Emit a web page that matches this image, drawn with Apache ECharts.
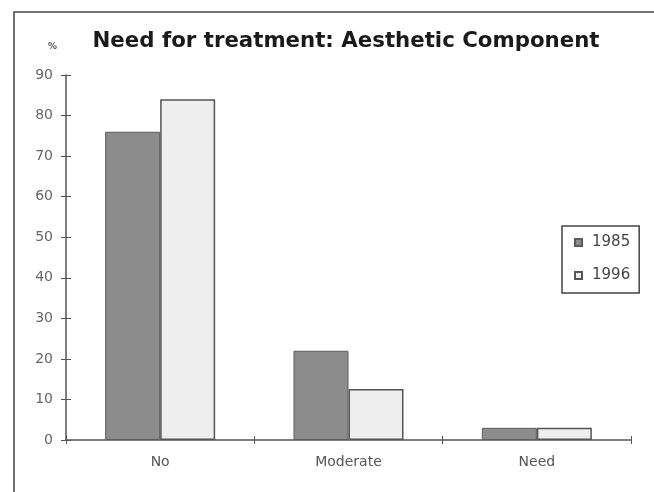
<!DOCTYPE html>
<html>
<head>
<meta charset="utf-8">
<script src="https://cdn.jsdelivr.net/npm/echarts@6/dist/echarts.min.js"></script>
<style>
  html, body { margin: 0; padding: 0; background: #fff; }
  #chart { width: 654px; height: 492px; }
</style>
</head>
<body>
<div id="chart"></div>
<script>
// Need for orthodontic treatment (Aesthetic Component), % of children
const categories = ['No', 'Moderate', 'Need'];
const years = ['1985', '1996'];
const values1985 = [76, 22, 3];
const values1996 = [84, 12.6, 3];
const yTicks = { min: 0, max: 90, interval: 10 };

const chart = echarts.init(document.getElementById('chart'), null, { renderer: 'canvas' });

const labelFont = '"DejaVu Sans", Verdana, sans-serif';

chart.setOption({
  backgroundColor: '#ffffff',
  animation: false,
  title: {
    text: 'Need for treatment: Aesthetic Component',
    left: 341,
    textAlign: 'center',
    top: 26,
    textStyle: {
      fontFamily: labelFont,
      fontWeight: 'bold',
      fontSize: 21.3,
      color: '#1a1a1a'
    }
  },
  graphic: [{
    type: 'rect',
    shape: { x: 14, y: 12, width: 700, height: 520 },
    style: { fill: null, stroke: '#444444', lineWidth: 1.5 },
    silent: true
  }],
  legend: {
    orient: 'vertical',
    left: 562,
    top: 226,
    data: years,
    icon: 'rect',
    itemWidth: 7,
    itemHeight: 7,
    itemGap: 18,
    padding: [9, 9, 10, 12],
    borderColor: '#444444',
    borderWidth: 1.5,
    textStyle: {
      fontFamily: labelFont,
      fontSize: 15,
      color: '#444444',
      padding: [0, 0, 0, 5]
    }
  },
  grid: {
    left: 66,
    right: 23,
    top: 75,
    bottom: 52,
    containLabel: false
  },
  xAxis: [{
    type: 'category',
    data: categories,
    axisLine: { lineStyle: { color: '#555555', width: 1.5 } },
    axisTick: { show: true, length: 4, lineStyle: { color: '#555555' } },
    axisLabel: {
      margin: 15,
      fontFamily: labelFont,
      fontSize: 14,
      color: '#555555'
    }
  }, {
    type: 'category',
    data: categories,
    position: 'bottom',
    axisLine: { show: false },
    axisTick: { show: true, inside: true, length: 4, lineStyle: { color: '#555555' } },
    axisLabel: { show: false }
  }],
  yAxis: [{
    type: 'value',
    min: yTicks.min,
    max: yTicks.max,
    interval: yTicks.interval,
    name: '%',
    nameLocation: 'end',
    nameGap: 24,
    nameTextStyle: {
      fontFamily: labelFont,
      fontSize: 9,
      fontWeight: 'bold',
      color: '#555555',
      align: 'right',
      padding: [0, 9, 0, 0]
    },
    splitLine: { show: false },
    axisLine: { show: true, lineStyle: { color: '#555555', width: 1.5 } },
    axisTick: { show: true, length: 5, lineStyle: { color: '#555555' } },
    axisLabel: {
      margin: 13,
      fontFamily: labelFont,
      fontSize: 14,
      color: '#666666'
    }
  }, {
    type: 'value',
    position: 'left',
    min: yTicks.min,
    max: yTicks.max,
    interval: yTicks.interval,
    splitLine: { show: false },
    axisLine: { show: false },
    axisTick: { show: true, inside: true, length: 5, lineStyle: { color: '#555555' } },
    axisLabel: { show: false }
  }],
  series: [{
    name: years[0],
    type: 'bar',
    data: values1985,
    barWidth: 55,
    barGap: '0%',
    itemStyle: { color: '#8c8c8c', borderColor: '#5c5c5c', borderWidth: 1 }
  }, {
    name: years[1],
    type: 'bar',
    data: values1996,
    barWidth: 55,
    barGap: '0%',
    itemStyle: { color: '#eeeeee', borderColor: '#555555', borderWidth: 1.5 }
  }]
});
</script>
</body>
</html>
